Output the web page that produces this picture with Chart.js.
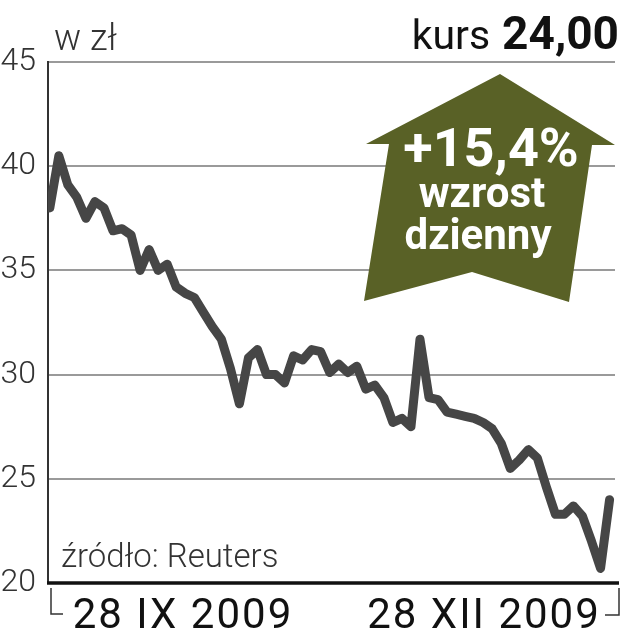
<!DOCTYPE html>
<html>
<head>
<meta charset="utf-8">
<script src="https://cdn.jsdelivr.net/npm/chart.js@4"></script>
<style>
  html, body { margin: 0; padding: 0; background: #fff; }
  #wrap { width: 624px; height: 640px; }
</style>
</head>
<body>
<div id="wrap"><canvas id="kursChart" width="624" height="640"></canvas></div>
<script>
// notowania (sesje od 28 IX do konca XII 2009)
const sessions = [
  0, 1, 2, 3, 4, 5, 6, 7, 8, 9,
  10, 11, 12, 13, 14, 15, 16, 17, 18, 19,
  20, 21, 22, 23, 24, 25, 26, 27, 28, 29,
  30, 31, 32, 33, 34, 35, 36, 37, 38, 39,
  40, 41, 42, 43, 44, 45, 46, 47, 48, 49,
  50, 51, 52, 53, 54, 55, 56, 57, 58, 59,
  60, 61, 62
];
const prices = [
  38.0, 40.5, 39.1, 38.5, 37.5, 38.3, 38.0, 36.9, 37.0, 36.7,
  35.0, 36.0, 35.0, 35.3, 34.2, 33.9, 33.7, 33.0, 32.3, 31.7,
  30.3, 28.6, 30.8, 31.2, 30.0, 30.0, 29.6, 30.9, 30.7, 31.2,
  31.1, 30.1, 30.5, 30.1, 30.4, 29.3, 29.5, 28.9, 27.7, 27.9,
  27.5, 31.7, 28.9, 28.8, 28.2, 28.1, 28.0, 27.9, 27.7, 27.4,
  26.7, 25.5, 25.9, 26.4, 26.0, 24.6, 23.3, 23.3, 23.7, 23.2,
  22.0, 20.7, 24.0
];
const yTicks = [20, 25, 30, 35, 40, 45];
const dateLabels = ['28 IX 2009', '28 XII 2009'];
const unitLabel = 'w zł';
const lastPrice = '24,00';
const changeLines = ['+15,4%', 'wzrost', 'dzienny'];
const sourceLabel = 'źródło: Reuters';

const FONT = 'Roboto, "DejaVu Sans", sans-serif';
const OLIVE = 'rgb(89,97,38)';

// wszystko co nie jest seria: napisy, strzalka, klamry pod osia
const decorations = {
  id: 'decorations',
  afterDraw(chart) {
    const ctx = chart.ctx;
    const area = chart.chartArea;
    ctx.save();

    // os pozioma (gruba, czarna)
    ctx.strokeStyle = '#111';
    ctx.lineWidth = 3.5;
    ctx.beginPath();
    ctx.moveTo(area.left - 1, area.bottom);
    ctx.lineTo(619, area.bottom);
    ctx.stroke();

    // klamry zakresu dat
    ctx.strokeStyle = '#333';
    ctx.lineWidth = 1.5;
    ctx.beginPath();
    ctx.moveTo(51, area.bottom + 5);
    ctx.lineTo(51, 614);
    ctx.lineTo(63, 614);
    ctx.moveTo(619, area.bottom + 5);
    ctx.lineTo(619, 615);
    ctx.lineTo(605, 615);
    ctx.stroke();

    // strzalka w gore
    ctx.fillStyle = OLIVE;
    ctx.beginPath();
    ctx.moveTo(500, 74);
    ctx.lineTo(615, 145);
    ctx.lineTo(592, 145);
    ctx.lineTo(569, 302);
    ctx.lineTo(472, 272);
    ctx.lineTo(364, 301);
    ctx.lineTo(389, 144);
    ctx.lineTo(366, 144);
    ctx.closePath();
    ctx.fill();

    ctx.fillStyle = '#fff';
    ctx.textAlign = 'center';
    ctx.textBaseline = 'alphabetic';
    ctx.font = 'bold 54px ' + FONT;
    ctx.fillText(changeLines[0], 491, 166);
    ctx.font = 'bold 42px ' + FONT;
    ctx.fillText(changeLines[1], 482, 207);
    ctx.fillText(changeLines[2], 478, 249);

    // naglowek
    ctx.textAlign = 'left';
    ctx.fillStyle = '#333';
    ctx.font = '300 36px ' + FONT;
    ctx.fillText(unitLabel, 54, 50);

    ctx.textAlign = 'right';
    ctx.fillStyle = '#111';
    ctx.font = 'bold 46px ' + FONT;
    ctx.fillText(lastPrice, 619, 49);
    const priceW = ctx.measureText(lastPrice).width;
    ctx.font = '41px ' + FONT;
    ctx.fillText('kurs', 619 - priceW - 12, 49);

    // zrodlo
    ctx.textAlign = 'left';
    ctx.fillStyle = '#333';
    ctx.font = '300 33px ' + FONT;
    ctx.fillText(sourceLabel, 61, 567);

    // daty pod osia
    ctx.textAlign = 'center';
    ctx.fillStyle = '#111';
    ctx.font = '400 42px ' + FONT;
    ctx.letterSpacing = '2px';
    ctx.fillText(dateLabels[0], 183, 628);
    ctx.fillText(dateLabels[1], 484, 628);

    ctx.restore();
  }
};

const ctx = document.getElementById('kursChart').getContext('2d');
new Chart(ctx, {
  type: 'line',
  data: {
    datasets: [
      {
        label: 'kurs',
        data: sessions.map((s, i) => ({ x: s, y: prices[i] })),
        borderColor: '#464646',
        borderWidth: 9,
        borderJoinStyle: 'round',
        borderCapStyle: 'round',
        pointRadius: 0,
        tension: 0,
        fill: false
      }
    ]
  },
  options: {
    responsive: false,
    animation: false,
    events: [],
    layout: {
      padding: { left: 0, top: 62, right: 9, bottom: 57 }
    },
    scales: {
      x: {
        type: 'linear',
        min: -0.2,
        max: 62.6,
        display: false
      },
      y: {
        min: 20,
        max: 45,
        afterBuildTicks(scale) {
          scale.ticks = yTicks.map(v => ({ value: v }));
        },
        afterFit(scale) {
          scale.width = 48;
        },
        ticks: {
          padding: 12,
          color: '#333',
          font: { family: FONT, size: 32, weight: '300' }
        },
        grid: {
          color: '#9a9a9a',
          lineWidth: 2,
          drawTicks: false
        },
        border: {
          display: true,
          color: '#333',
          width: 2
        }
      }
    },
    plugins: {
      legend: { display: false },
      tooltip: { enabled: false }
    }
  },
  plugins: [decorations]
});
</script>
</body>
</html>
